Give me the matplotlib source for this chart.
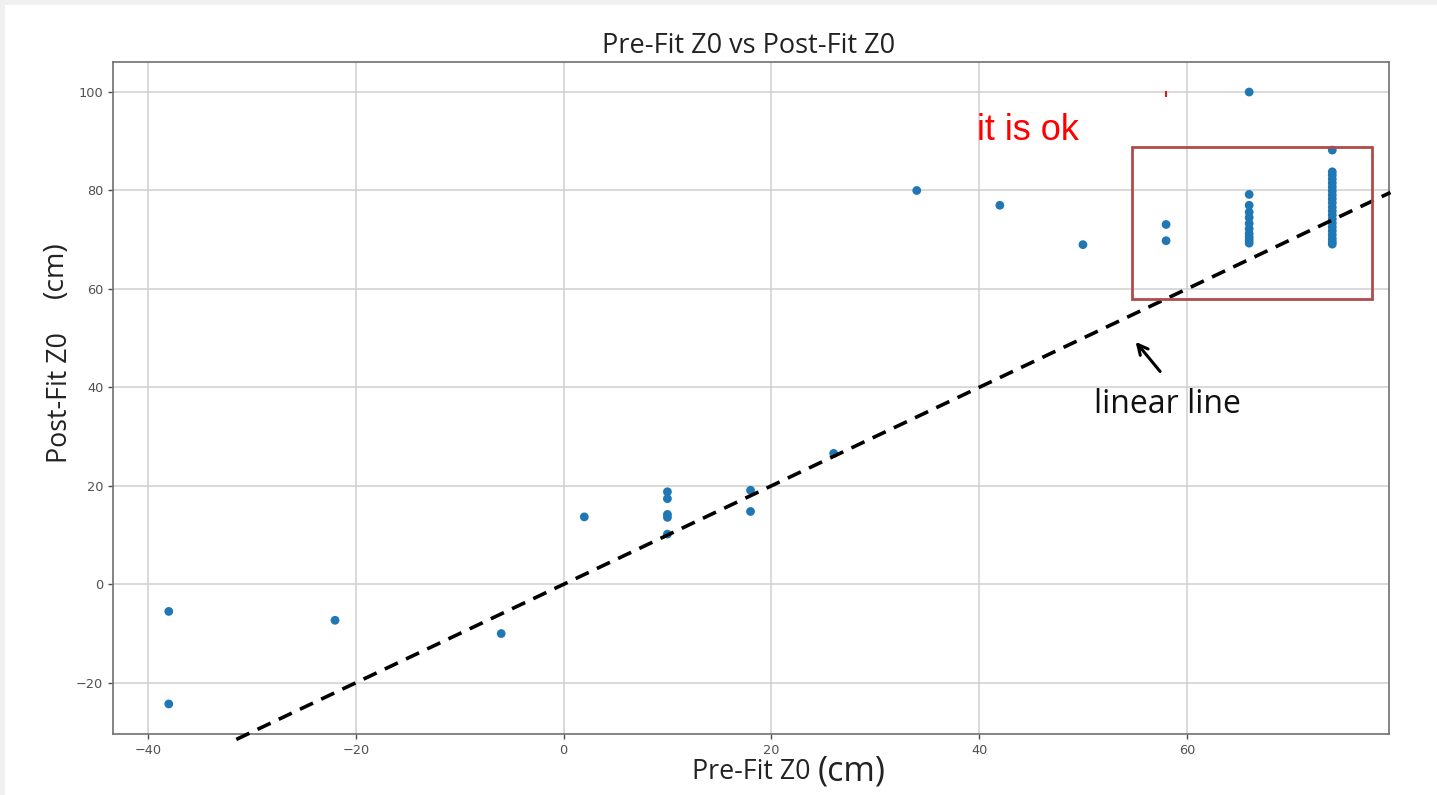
import matplotlib
matplotlib.use("Agg")
import matplotlib.pyplot as plt
from matplotlib.patches import Rectangle

# Pre-fit vs post-fit Z0 values (cm)
pre_fit = [-38, -38, -22, -6, 2,
           10, 10, 10, 10, 10,
           18, 18, 26, 34, 42, 50, 58, 58, 66,
           66, 66, 66, 66, 66, 66, 66, 66, 66, 66,
           74, 74, 74, 74, 74, 74, 74, 74, 74, 74,
           74, 74, 74, 74, 74, 74, 74, 74, 74, 74, 74]
post_fit = [-5.5, -24.3, -7.3, -10.0, 13.7,
            18.8, 17.4, 14.2, 13.6, 10.2,
            19.1, 14.8, 26.6, 80.0, 77.0, 69.0, 73.1, 69.8, 100.0,
            79.2, 77.0, 75.6, 74.5, 73.3, 72.2, 71.2, 70.5, 69.9, 69.3,
            88.2, 83.8, 83.1, 82.3, 81.5, 80.7, 79.9, 79.1, 78.3, 77.5,
            76.6, 75.8, 75.0, 74.2, 73.4, 72.6, 71.8, 71.0, 70.2, 69.6, 69.1]

# Reference y = x line
line_x = [-31.5, 79.6]
line_y = [-31.5, 79.6]

title_text = "Pre-Fit Z0 vs Post-Fit Z0"
x_label = "Pre-Fit Z0"
y_label = "Post-Fit Z0"
unit = "(cm)"
note_text = "it is ok"
arrow_text = "linear line"
x_ticks = [-40, -20, 0, 20, 40, 60]
y_ticks = [-20, 0, 20, 40, 60, 80, 100]

W, H = 1437, 795
fig = plt.figure(figsize=(W / 100, H / 100), dpi=100, facecolor="#f0f0f0")
# white page area behind everything
page = fig.add_axes([5 / W, 0, 1 - 5 / W, 1 - 5 / H], zorder=-10)
page.axis("off")
page.add_patch(Rectangle((0, 0), 1, 1, transform=page.transAxes,
                         facecolor="white", edgecolor="none"))

ax = fig.add_axes([113 / W, 1 - 734 / H, 1276 / W, 672 / H])
ax.set_facecolor("white")
ax.scatter(pre_fit, post_fit, s=40, color="#1f77b4", zorder=3, edgecolors="none")
ax.plot(line_x, line_y, linestyle=(0, (4, 2.5)), color="black", linewidth=2.6,
        clip_on=False, zorder=4)

ax.set_xlim(-43.37, 79.46)
ax.set_ylim(-30.4, 106.1)
ax.set_xticks(x_ticks)
ax.set_yticks(y_ticks)
ax.grid(True, color="#d0d0d0", linewidth=1.1)
ax.set_axisbelow(True)
ax.tick_params(labelsize=9.3, colors="#505050", length=3.5, width=1)
for sp in ax.spines.values():
    sp.set_color("#707070")
    sp.set_linewidth(1.2)

sans = ["Open Sans", "DejaVu Sans"]
fig.text(0.5 * (603 + 895) / W, 1 - 46 / H, title_text, ha="center",
         va="center", fontsize=19.5, family=sans, color="#222222")
fig.text(692 / W, 1 - 772 / H, x_label, ha="left", va="center",
         fontsize=19.3, family=sans, color="#222222")
fig.text(818 / W, 1 - 772 / H, unit, ha="left", va="center",
         fontsize=24.5, family=sans, color="#222222")
fig.text(60 / W, 1 - 463 / H, y_label, ha="left", va="center",
         rotation=90, rotation_mode="anchor", fontsize=19.3, family=sans,
         color="#222222")
fig.text(56 / W, 1 - 298 / H, unit, ha="left", va="center",
         rotation=90, rotation_mode="anchor", fontsize=20.5, family=sans,
         color="#222222")

# callouts
ax.add_patch(Rectangle((45.0, 90.4), 14.4, 9.3, facecolor="white",
                       edgecolor="none", zorder=2))
ax.add_patch(Rectangle((54.7, 57.9), 23.1, 31.0, fill=False,
                       edgecolor="#b24a4a", linewidth=2, zorder=5))
ax.text(44.7, 92.2, note_text, color="red", fontsize=26,
        family=["Liberation Sans", "DejaVu Sans"], ha="center", va="center",
        zorder=6)
ax.plot([58.0], [99.6], marker="|", color="#cc2222", markersize=4,
        markeredgewidth=1.5, zorder=6)
ax.annotate("", xy=(54.9, 49.7), xytext=(57.6, 42.8),
            arrowprops=dict(arrowstyle="->", color="black", lw=2.2,
                            mutation_scale=18), zorder=6)
ax.text(58.1, 36.6, arrow_text, fontsize=23, family=sans, color="#111111",
        ha="center", va="center", zorder=6)

fig.savefig("out.png", dpi=100, facecolor=fig.get_facecolor())
